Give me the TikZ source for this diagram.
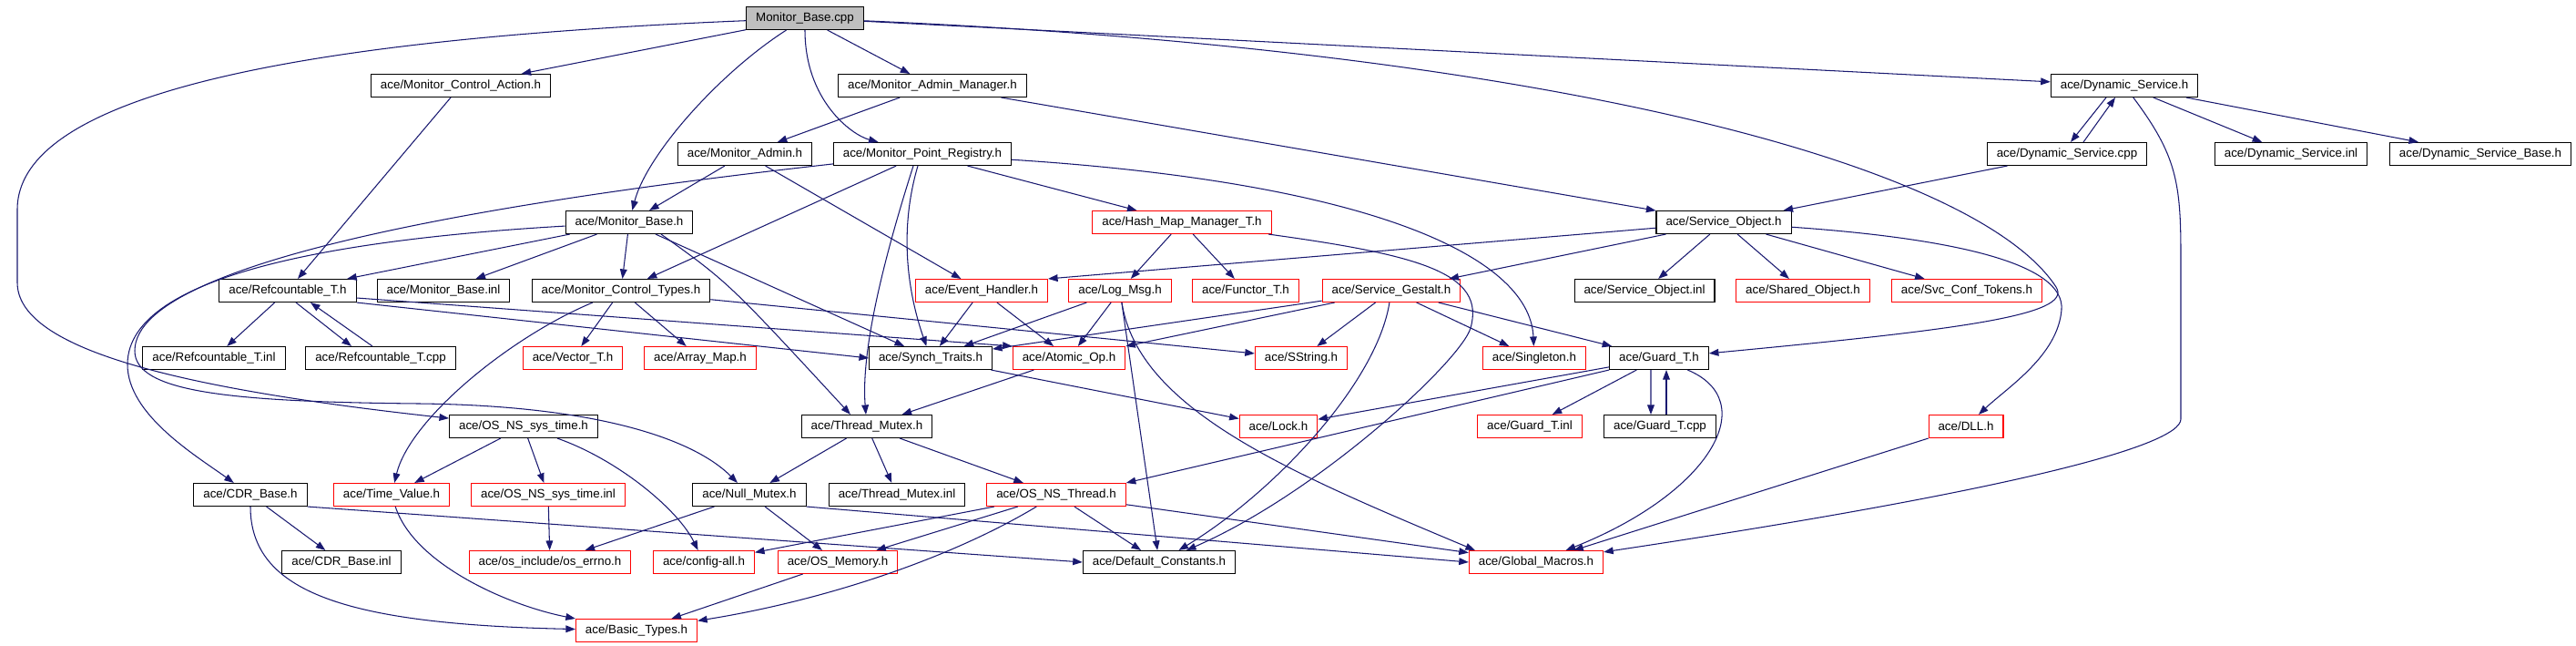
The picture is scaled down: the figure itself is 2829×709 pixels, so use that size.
\documentclass[tikz,border=0pt]{standalone}
\usepackage{fontspec}
\newfontfamily\depfont{Liberation Sans}
\usetikzlibrary{arrows.meta}
\definecolor{edgeblue}{HTML}{191970}
\definecolor{rootgray}{HTML}{BFBFBF}
\tikzset{
  file/.style={draw=black,line width=0.3pt,rectangle,minimum height=0.25cm,
    inner xsep=0.105cm,inner ysep=0pt,font=\depfont\fontsize{3.8}{4.5}\selectfont},
  trunc/.style={file,draw=red},
  dep/.style={edgeblue,line width=0.3pt,-{Triangle[length=3pt,width=2.2pt]}}
}
\begin{document}
\begin{tikzpicture}[x=0.01cm,y=-0.01cm]
  \useasboundingbox (0,0) rectangle (2829,709);
  % the file itself
  \node[file,fill=rootgray] (root) at (884,20) {Monitor\_Base.cpp};
  % headers that are documented
  \foreach \nm/\px/\py/\lbl in {
      mca/506/94/{Monitor\_Control\_Action.h}, mam/1024/94/{Monitor\_Admin\_Manager.h},
      dsh/2333/94/{Dynamic\_Service.h}, madm/818/169/{Monitor\_Admin.h},
      mpr/1013/169/{Monitor\_Point\_Registry.h}, dscpp/2270/169/{Dynamic\_Service.cpp},
      dsinl/2516/169/{Dynamic\_Service.inl}, dsb/2724/169/{Dynamic\_Service\_Base.h},
      mbh/691/244/{Monitor\_Base.h}, soh/1893/244/{Service\_Object.h},
      rch/316/319/{Refcountable\_T.h}, mbinl/487/319/{Monitor\_Base.inl},
      mct/682/319/{Monitor\_Control\_Types.h}, soinl/1806/319/{Service\_Object.inl},
      rcinl/235/393/{Refcountable\_T.inl}, rccpp/418/393/{Refcountable\_T.cpp},
      syn/1022/393/{Synch\_Traits.h}, guard/1822/393/{Guard\_T.h},
      ostime/575/468/{OS\_NS\_sys\_time.h}, tmx/952/468/{Thread\_Mutex.h},
      gcpp/1823/468/{Guard\_T.cpp}, cdr/275/543/{CDR\_Base.h},
      nmx/823/543/{Null\_Mutex.h}, tmxinl/985/543/{Thread\_Mutex.inl},
      cdrinl/375/617/{CDR\_Base.inl}, defc/1273/617/{Default\_Constants.h}}
    \node[file] (\nm) at (\px,\py) {ace/\lbl};
  % headers whose graph is cut off
  \foreach \nm/\px/\py/\lbl in {
      hmm/1298/244/{Hash\_Map\_Manager\_T.h}, evh/1078/319/{Event\_Handler.h},
      logm/1230/319/{Log\_Msg.h}, fun/1368/319/{Functor\_T.h},
      sgs/1528/319/{Service\_Gestalt.h}, shob/1980/319/{Shared\_Object.h},
      svc/2160/319/{Svc\_Conf\_Tokens.h}, vec/629/393/{Vector\_T.h},
      amap/769/393/{Array\_Map.h}, atom/1174/393/{Atomic\_Op.h},
      sstr/1429/393/{SString.h}, sing/1685/393/{Singleton.h},
      lock/1404/468/{Lock.h}, ginl/1680/468/{Guard\_T.inl},
      dll/2159/468/{DLL.h}, tval/430/543/{Time\_Value.h},
      ostinl/602/543/{OS\_NS\_sys\_time.inl}, osthr/1160/543/{OS\_NS\_Thread.h},
      errno/604/617/{os\_include/os\_errno.h}, cfg/773/617/{config-all.h},
      osmem/920/617/{OS\_Memory.h}, gmac/1687/617/{Global\_Macros.h},
      btyp/699/692/{Basic\_Types.h}}
    \node[trunc] (\nm) at (\px,\py) {ace/\lbl};
  % straight includes
  \foreach \a/\b in {root/mca, root/mam, root/dsh, mca/rch, mam/madm, mam/soh,
      madm/mbh, madm/evh, mpr/mct, mpr/hmm, dsh/dsinl, dsh/dsb, dscpp/soh,
      mbh/rch, mbh/mbinl, mbh/mct, mbh/syn, hmm/logm, hmm/fun, soh/sgs,
      soh/soinl, soh/shob, soh/svc, rch/rcinl, mct/vec, mct/amap, mct/sstr,
      evh/syn, evh/atom, logm/syn, logm/atom, logm/defc, sgs/syn, sgs/atom,
      sgs/sstr, sgs/sing, sgs/guard, syn/lock, atom/tmx, guard/lock,
      guard/ginl, ostime/tval, ostime/ostinl, tmx/nmx, tmx/tmxinl, tmx/osthr,
      dll/gmac, cdr/cdrinl, ostinl/errno, nmx/errno, nmx/osmem, osthr/cfg,
      osthr/osmem, osthr/defc, osthr/gmac, osmem/btyp}
    \draw[dep] (\a) -- (\b);
  \draw[dep] (soh) -- (evh.north east);
  \draw[dep] (rch.south east) -- (syn.west);
  \draw[dep] ([yshift=-0.08cm]rch.east) -- (atom.north west);
  \draw[dep] (cdr.south east) -- (defc.west);
  \draw[dep] (nmx.south east) -- (gmac.west);
  \draw[dep] (guard.south west) -- (osthr.north east);
  % pairs that include each other
  \draw[dep] ([xshift=-0.09cm]guard.south) -- ([xshift=-0.10cm]gcpp.north);
  \draw[dep] ([xshift=0.07cm]gcpp.north) -- ([xshift=0.08cm]guard.south);
  \draw[dep] ([xshift=0.09cm]rch.south) -- ([xshift=-0.32cm]rccpp.north);
  \draw[dep] ([xshift=-0.09cm]rccpp.north) -- ([xshift=0.25cm]rch.south);
  \draw[dep] ([xshift=-0.2cm]dsh.south) -- ([xshift=0.04cm]dscpp.north);
  \draw[dep] ([xshift=0.18cm]dscpp.north) -- ([xshift=-0.1cm]dsh.south);
  % curved includes
  \draw[dep] (root) .. controls (790,80) and (710,170) .. (mbh);
  \draw[dep] (root) .. controls (884,110) and (935,148) .. (mpr);
  \draw[dep] (root) .. controls (400,40) and (19,90) .. (19,230)
    -- (19,310) .. controls (19,380) and (180,425) .. (ostime);
  \draw[dep] (root) .. controls (1700,55) and (2170,180) .. (2258,315)
    .. controls (2278,346) and (2150,362) .. (guard);
  \draw[dep] (soh) .. controls (2150,262) and (2268,290) .. (2264,340)
    .. controls (2260,390) and (2205,425) .. (dll);
  \draw[dep] (dsh) .. controls (2390,170) and (2395,200) .. (2395,280)
    -- (2395,460) .. controls (2395,490) and (2200,540) .. (gmac);
  \draw[dep] (hmm) .. controls (1560,280) and (1632,300) .. (1615,360)
    .. controls (1605,395) and (1450,540) .. (defc);
  \draw[dep] (sgs) .. controls (1512,420) and (1400,540) .. (defc);
  \draw[dep] (logm) .. controls (1250,450) and (1420,520) .. ([xshift=-0.67cm]gmac.north);
  \draw[dep] (guard) .. controls (1935,440) and (1880,540) .. (gmac);
  \draw[dep] (mbh) .. controls (380,262) and (140,300) .. (140,400)
    .. controls (140,455) and (215,500) .. (cdr);
  \draw[dep] (mpr) .. controls (600,215) and (148,280) .. (148,385)
    .. controls (148,430) and (250,441) .. (460,443)
    .. controls (650,445) and (760,480) .. (nmx);
  \draw[dep] (mpr) .. controls (1500,200) and (1680,280) .. (sing);
  \draw[dep] ([xshift=-0.1cm]mpr.south) .. controls (975,270) and (945,380) .. (tmx);
  \draw[dep] ([xshift=-0.05cm]mpr.south) .. controls (985,260) and (1000,330) .. (syn);
  \draw[dep] ([xshift=0.35cm]mbh.south) .. controls (800,310) .. ([xshift=-0.18cm]tmx.north);
  \draw[dep] (mct) .. controls (560,370) and (450,460) .. (tval);
  \draw[dep] (ostime) .. controls (680,505) and (745,560) .. (cfg);
  \draw[dep] (tval) .. controls (455,620) and (560,665) .. (btyp);
  \draw[dep] (cdr) .. controls (275,650) and (380,685) .. (btyp);
  \draw[dep] (osthr) .. controls (1040,615) and (900,660) .. (btyp);
\end{tikzpicture}
\end{document}
